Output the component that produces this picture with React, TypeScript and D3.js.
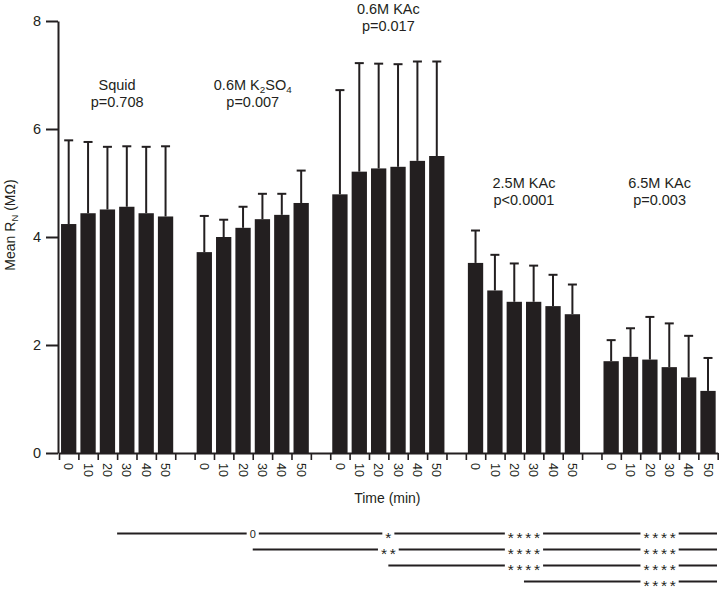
import React, { useEffect, useRef } from 'react';
import * as d3 from 'd3';

// groups, p values and sampling times
const groups = ['Squid', '0.6M K_2SO_4', '0.6M KAc', '2.5M KAc', '6.5M KAc'];
const pValues = ['p=0.708', 'p=0.007', 'p=0.017', 'p<0.0001', 'p=0.003'];
const times = [0, 10, 20, 30, 40, 50];
const yTicks = [0, 2, 4, 6, 8];

// mean R_N (MOhm) per time point, and top of the error bar (mean + SD)
const meanSquid = [4.24, 4.44, 4.51, 4.56, 4.44, 4.38];
const upperSquid = [5.79, 5.76, 5.67, 5.68, 5.67, 5.68];
const meanK2SO4 = [3.72, 4.0, 4.17, 4.33, 4.41, 4.63];
const upperK2SO4 = [4.39, 4.32, 4.56, 4.8, 4.8, 5.23];
const meanKAc06 = [4.79, 5.21, 5.27, 5.3, 5.41, 5.5];
const upperKAc06 = [6.72, 7.22, 7.21, 7.2, 7.25, 7.25];
const meanKAc25 = [3.52, 3.01, 2.8, 2.8, 2.72, 2.57];
const upperKAc25 = [4.12, 3.67, 3.51, 3.47, 3.3, 3.12];
const meanKAc65 = [1.7, 1.78, 1.73, 1.59, 1.4, 1.15];
const upperKAc65 = [2.09, 2.31, 2.52, 2.4, 2.17, 1.76];

// pairwise comparisons, one row per reference group
const sigVsSquid = ['0', '*', '****', '****'];
const sigVsK2SO4 = ['**', '****', '****'];
const sigVsKAc06 = ['****', '****'];
const sigVsKAc25 = ['****'];

const means = [meanSquid, meanK2SO4, meanKAc06, meanKAc25, meanKAc65];
const uppers = [upperSquid, upperK2SO4, upperKAc06, upperKAc25, upperKAc65];
const sigRows = [sigVsSquid, sigVsK2SO4, sigVsKAc06, sigVsKAc25];

const ink = '#231f20';
const font = '"Liberation Sans", Arial, Helvetica, sans-serif';

// writes "a_2b" as text with subscript tspans
function addRich(text: any, label: string, size: number) {
  const parts = label.split(/_(\w)/);
  let lowered = false;
  parts.forEach((p, i) => {
    if (!p) return;
    const sub = i % 2 === 1;
    const ts = text.append('tspan').text(p);
    if (sub) {
      ts.attr('font-size', size * 0.68).attr('dy', size * 0.22);
      lowered = true;
    } else if (lowered) {
      ts.attr('dy', -size * 0.22);
      lowered = false;
    }
  });
}

const App = () => {
  const svgRef = useRef<SVGSVGElement>(null);

  useEffect(() => {
    const svg = d3.select(svgRef.current);
    svg.selectAll('*').remove();

    const slots: string[] = [];
    groups.forEach((_, gi) => {
      times.forEach(t => slots.push(`${gi}-${t}`));
      if (gi < groups.length - 1) slots.push(`gap-${gi}`);
    });

    const x = d3.scaleBand<string>()
      .domain(slots)
      .range([59, 717.7])
      .paddingInner(0.21)
      .paddingOuter(0.105);
    const y = d3.scaleLinear().domain([0, 8]).range([453, 21]);
    const bw = x.bandwidth();
    const cx = (gi: number, t: number) => (x(`${gi}-${t}`) as number) + bw / 2;
    const groupCenter = (gi: number) => (cx(gi, times[0]) + cx(gi, times[times.length - 1])) / 2;

    const bars = groups.flatMap((_, gi) =>
      times.map((t, ti) => ({ gi, t, mean: means[gi][ti], upper: uppers[gi][ti] }))
    );

    // bars
    svg.append('g').selectAll('rect')
      .data(bars)
      .enter().append('rect')
      .attr('x', d => x(`${d.gi}-${d.t}`) as number)
      .attr('y', d => y(d.mean))
      .attr('width', bw)
      .attr('height', d => y(0) - y(d.mean))
      .attr('fill', ink);

    // error bars (upper only)
    const err = svg.append('g').attr('stroke', ink).attr('stroke-width', 2);
    err.selectAll('line.v')
      .data(bars)
      .enter().append('line')
      .attr('class', 'v')
      .attr('x1', d => cx(d.gi, d.t)).attr('x2', d => cx(d.gi, d.t))
      .attr('y1', d => y(d.mean)).attr('y2', d => y(d.upper));
    err.selectAll('line.c')
      .data(bars)
      .enter().append('line')
      .attr('class', 'c')
      .attr('x1', d => cx(d.gi, d.t) - 4.5).attr('x2', d => cx(d.gi, d.t) + 4.5)
      .attr('y1', d => y(d.upper)).attr('y2', d => y(d.upper));

    // y axis
    const gy = svg.append('g')
      .attr('transform', 'translate(58,0)')
      .call(d3.axisLeft(y).tickValues(yTicks).tickSize(12).tickSizeOuter(0).tickPadding(5));
    gy.select('.domain').attr('stroke', ink).attr('stroke-width', 2);
    gy.selectAll('.tick line').attr('stroke', ink).attr('stroke-width', 2);
    gy.selectAll('.tick text')
      .attr('font-size', 14.5).attr('font-family', font).attr('fill', ink);

    // x axis: ticks on every slot boundary
    const xb = d3.scaleLinear().domain([0, slots.length]).range(x.range());
    const gx = svg.append('g')
      .attr('transform', `translate(0,${y(0)})`)
      .call(d3.axisBottom(xb).tickValues(d3.range(slots.length + 1)).tickFormat(() => '').tickSize(7).tickSizeOuter(0));
    gx.select('.domain').attr('stroke', ink).attr('stroke-width', 2);
    gx.selectAll('.tick line').attr('stroke', ink).attr('stroke-width', 1.6);

    // rotated time labels
    svg.append('g').selectAll('text')
      .data(bars)
      .enter().append('text')
      .attr('transform', d => `translate(${cx(d.gi, d.t)},${y(0) + 10}) rotate(90)`)
      .attr('dy', '0.35em')
      .attr('font-size', 12.5)
      .attr('font-family', font)
      .attr('fill', ink)
      .text(d => d.t);

    svg.append('text')
      .attr('x', groupCenter(2) - 1)
      .attr('y', 503)
      .attr('text-anchor', 'middle')
      .attr('font-size', 14)
      .attr('font-family', font)
      .attr('fill', ink)
      .text('Time (min)');

    // y title
    const yt = svg.append('text')
      .attr('transform', `translate(15,${y(4) - 12}) rotate(-90)`)
      .attr('text-anchor', 'middle')
      .attr('font-size', 14)
      .attr('font-family', font)
      .attr('fill', ink);
    addRich(yt, 'Mean R_N (MΩ)', 14);

    // group labels
    const labelAt = [6.72, 6.72, 8.13, 4.91, 4.91];
    groups.forEach((g, gi) => {
      const t1 = svg.append('text')
        .attr('x', groupCenter(gi))
        .attr('y', y(labelAt[gi]))
        .attr('text-anchor', 'middle')
        .attr('font-size', 14.5)
        .attr('font-family', font)
        .attr('fill', ink);
      addRich(t1, g, 14.5);
      svg.append('text')
        .attr('x', groupCenter(gi))
        .attr('y', y(labelAt[gi]) + 17.3)
        .attr('text-anchor', 'middle')
        .attr('font-size', 14.5)
        .attr('font-family', font)
        .attr('fill', ink)
        .text(pValues[gi]);
    });

    // significance rows under the chart
    const rowsG = svg.append('g');
    sigRows.forEach((marks, ri) => {
      const ry = 533.5 + ri * 16;
      const start = ri;
      rowsG.append('line')
        .attr('x1', groupCenter(start)).attr('x2', 717)
        .attr('y1', ry).attr('y2', ry)
        .attr('stroke', ink).attr('stroke-width', 2);
      marks.forEach((m, mi) => {
        const gx0 = groupCenter(start + 1 + mi);
        const star = m.includes('*');
        const size = star ? 15.5 : 11;
        const ls = star ? 2.7 : 0;
        const t = rowsG.append('text')
          .attr('x', gx0 + ls / 2)
          .attr('y', ry + (star ? 9.2 : 4))
          .attr('text-anchor', 'middle')
          .attr('font-size', size)
          .attr('letter-spacing', ls)
          .attr('font-family', font)
          .attr('fill', ink)
          .text(m);
        const w = (t.node() as SVGTextElement).getComputedTextLength() - ls;
        rowsG.insert('rect', () => t.node())
          .attr('x', gx0 - w / 2 - 3)
          .attr('y', ry - 4)
          .attr('width', w + 6)
          .attr('height', 8)
          .attr('fill', '#fff');
      });
    });
  }, []);

  return (
    <svg
      ref={svgRef}
      width={719}
      height={602}
      style={{ position: 'absolute', left: 0, top: 0, background: '#fff' }}
    />
  );
};

export default App;
